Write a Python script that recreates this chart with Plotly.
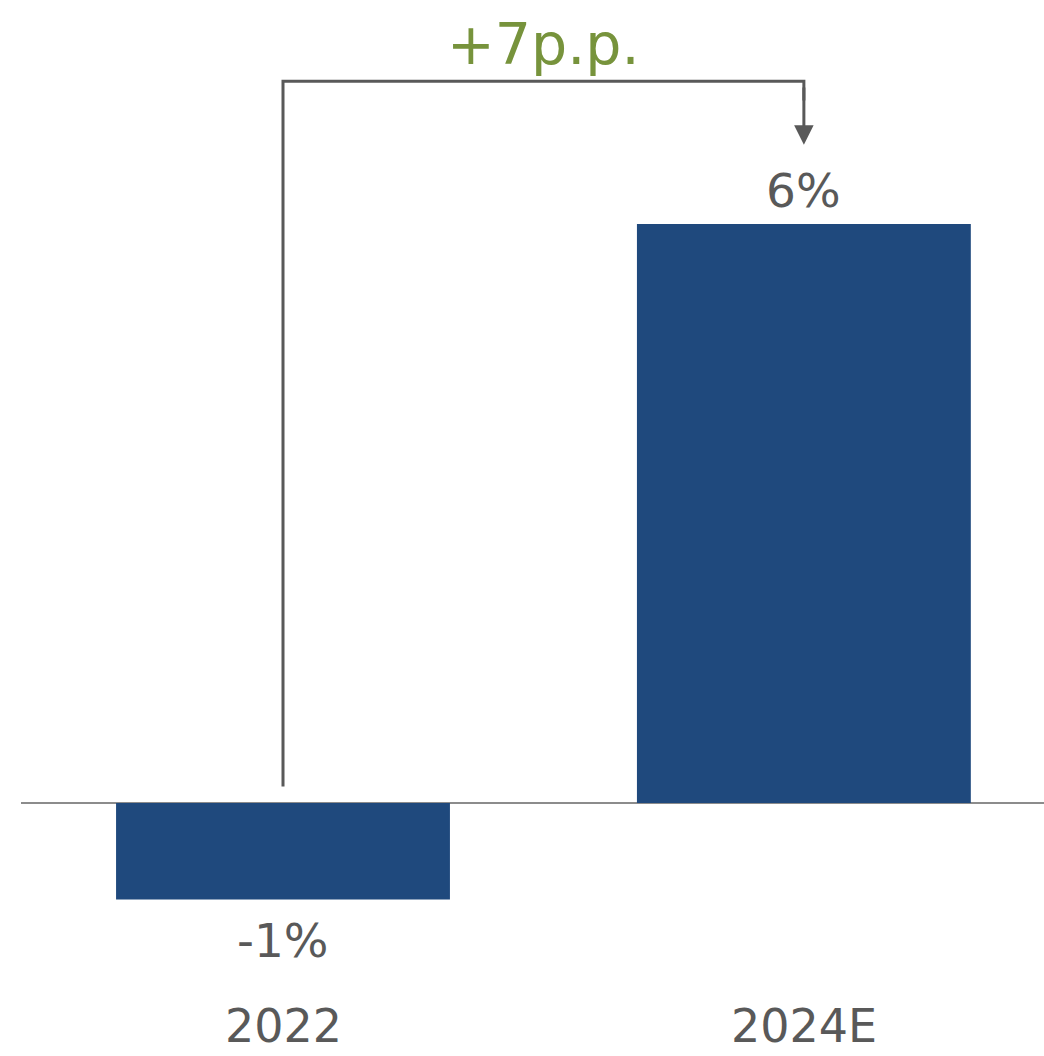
import plotly.graph_objects as go

categories = ["2022", "2024E"]
values = [-1, 6]
value_labels = ["-1%", "6%"]
delta_label = "+7p.p."

BAR = "#1F497D"
GRAY = "#595959"
GREEN = "#77933C"
FONT = "Verdana, DejaVu Sans, sans-serif"

px_per_unit = 96.5
zero_px = 803
H = 1056
y_top = zero_px / px_per_unit
y_bot = -(H - zero_px) / px_per_unit

xs = [0, 1]
fig = go.Figure(go.Bar(x=xs, y=values, width=0.641, marker=dict(color=BAR, line=dict(width=0)),
                       hoverinfo="skip"))

# value labels
for x, v, t in zip(xs, values, value_labels):
    fig.add_annotation(x=x, y=v, xref="x", yref="y", text=t, showarrow=False,
                       yanchor="middle", yshift=34 if v >= 0 else -41,
                       font=dict(family=FONT, size=47, color=GRAY))

# category labels
cat_y = -(1026 - zero_px) / px_per_unit
for x, c in zip(xs, categories):
    fig.add_annotation(x=x, y=cat_y, xref="x", yref="y", text=c, showarrow=False,
                       yanchor="middle", font=dict(family=FONT, size=46, color=GRAY))

# bracket
b_start = 0.17
b_top = max(values) + 1.48
b_tip = values[1] + 0.82
fig.add_shape(type="path", xref="x", yref="y",
              path=f"M 0 {b_start} L 0 {b_top} L 1 {b_top} L 1 {b_top - 0.2}",
              line=dict(color=GRAY, width=3))
fig.add_annotation(x=1, y=b_tip, ax=1, ay=b_top - 0.05, xref="x", yref="y", axref="x", ayref="y",
                   text="", showarrow=True, arrowhead=2, arrowsize=1.3, arrowwidth=3,
                   arrowcolor=GRAY, standoff=0)
fig.add_annotation(x=0.5, y=b_top, xref="x", yref="y", text=delta_label, showarrow=False,
                   yanchor="middle", yshift=37,
                   font=dict(family=FONT, size=57, color=GREEN))

fig.update_layout(
    width=1044, height=1056,
    margin=dict(l=21, r=0, t=0, b=0),
    paper_bgcolor="white", plot_bgcolor="white",
    showlegend=False,
    xaxis=dict(range=[-0.503, 1.461], visible=False, fixedrange=True),
    yaxis=dict(range=[y_bot, y_top], showgrid=False, showticklabels=False, ticks="",
               zeroline=True, zerolinecolor="#8C8C8C", zerolinewidth=2, fixedrange=True),
)

fig.write_html("out.html", config={"displayModeBar": False})
